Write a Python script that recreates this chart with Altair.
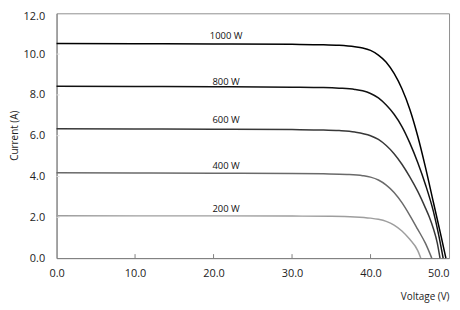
import altair as alt
import pandas as pd

series = ["1000 W", "800 W", "600 W", "400 W", "200 W"]
colors = ["#000000", "#111111", "#383838", "#6a6a6a", "#9e9e9e"]

v_1000 = [0, 10, 20, 30, 34, 36, 38, 39, 40, 41, 42, 43, 44, 45, 46, 47, 48, 49, 49.6]
i_1000 = [10.52, 10.51, 10.50, 10.48, 10.46, 10.43, 10.36, 10.3, 10.18, 9.95, 9.6, 9.05, 8.3, 7.3, 6.0, 4.45, 2.75, 1.05, 0]

v_800 = [0, 10, 20, 30, 34, 36, 38, 39, 40, 41, 42, 43, 44, 45, 46, 47, 48, 48.7, 49.25]
i_800 = [8.42, 8.41, 8.40, 8.38, 8.36, 8.33, 8.27, 8.2, 8.07, 7.85, 7.5, 7.05, 6.45, 5.65, 4.7, 3.6, 2.3, 1.1, 0]

v_600 = [0, 10, 20, 30, 34, 36, 38, 40, 41, 42, 43, 44, 45, 46, 47, 47.5, 48, 48.5, 48.85]
i_600 = [6.34, 6.33, 6.32, 6.30, 6.28, 6.25, 6.18, 6.0, 5.82, 5.52, 5.12, 4.6, 3.98, 3.28, 2.45, 2.0, 1.45, 0.75, 0]

v_400 = [0, 10, 20, 30, 34, 37, 39, 40, 41, 42, 43, 44, 45, 46, 47, 47.8]
i_400 = [4.18, 4.17, 4.16, 4.15, 4.13, 4.1, 4.04, 3.97, 3.83, 3.58, 3.22, 2.72, 2.1, 1.42, 0.72, 0]

v_200 = [0, 10, 20, 30, 35, 38, 40, 41, 42, 43, 44, 45, 46, 46.4]
i_200 = [2.08, 2.07, 2.07, 2.06, 2.05, 2.02, 1.96, 1.9, 1.8, 1.62, 1.33, 0.92, 0.38, 0]

label_v = [21.6, 21.6, 21.6, 21.6, 21.6]
label_i = [10.87, 8.64, 6.75, 4.51, 2.43]

x_ticks = [0, 10, 20, 30, 40, 50]
y_ticks = [0, 2, 4, 6, 8, 10, 12]
x_inner_ticks = [10, 20, 30, 40]
y_inner_ticks = [2, 4, 6, 8, 10]

rows = []
for name, vs, cs in zip(series, [v_1000, v_800, v_600, v_400, v_200],
                        [i_1000, i_800, i_600, i_400, i_200]):
    for v, c in zip(vs, cs):
        rows.append({"series": name, "V": v, "I": c})
df = pd.DataFrame(rows)

W, H = 396, 247
FONT = "Open Sans"

x_scale = alt.Scale(domain=[0, 50], nice=False)
y_scale = alt.Scale(domain=[0, 12], nice=False)

x_axis = alt.Axis(
    values=x_ticks, format=".1f", title="Voltage (V)", grid=False, ticks=False,
    labelFont=FONT, labelFontSize=11, labelColor="#222222", labelPadding=10,
    labelAlign={"expr": "datum.value == 50 ? 'right' : 'center'"},
    domainColor="#808080", titleFont=FONT, titleFontSize=10, titleFontWeight="normal",
    titleColor="#222222", titleX=W, titleY=39, titleAlign="right", titleBaseline="middle",
)
y_axis = alt.Axis(
    values=y_ticks, format=".1f", title="Current (A)", grid=False, ticks=False,
    labelFont=FONT, labelFontSize=11, labelColor="#222222", labelPadding=12,
    labelOffset={"expr": "datum.value == 12 ? 3 : 0"},
    domainColor="#808080", titleFont=FONT, titleFontSize=10, titleFontWeight="normal",
    titleColor="#222222", titleX=-42, titleY=123, titleAlign="center", titleBaseline="middle",
)

lines = alt.Chart(df).mark_line(strokeWidth=1.5, interpolate="monotone").encode(
    x=alt.X("V:Q", scale=x_scale, axis=x_axis),
    y=alt.Y("I:Q", scale=y_scale, axis=y_axis),
    color=alt.Color("series:N", scale=alt.Scale(domain=series, range=colors), legend=None),
)

lab_df = pd.DataFrame({"series": series, "x": label_v, "y": label_i})
labels = alt.Chart(lab_df).mark_text(
    font=FONT, fontSize=9.5, color="#111111", align="center", baseline="middle"
).encode(
    x=alt.X("x:Q", scale=x_scale),
    y=alt.Y("y:Q", scale=y_scale),
    text="series:N",
)

xt_df = pd.DataFrame({"v": x_inner_ticks})
xticks = alt.Chart(xt_df).mark_rule(color="#808080", strokeWidth=1).encode(
    x=alt.X("v:Q", scale=x_scale),
    y=alt.value(H),
    y2=alt.value(H - 4),
)
yt_df = pd.DataFrame({"v": y_inner_ticks})
yticks = alt.Chart(yt_df).mark_rule(color="#dddddd", strokeWidth=1).encode(
    y=alt.Y("v:Q", scale=y_scale),
    x=alt.value(0),
    x2=alt.value(3),
)

chart = alt.layer(yticks, xticks, lines, labels).properties(
    width=W, height=H,
    padding={"left": 49, "top": 4, "right": 3, "bottom": 50},
    autosize=alt.AutoSizeParams(type="none"),
).configure_view(stroke="#909090", strokeWidth=1)

chart.save("out.html", embed_options={"renderer": "svg", "actions": False})
